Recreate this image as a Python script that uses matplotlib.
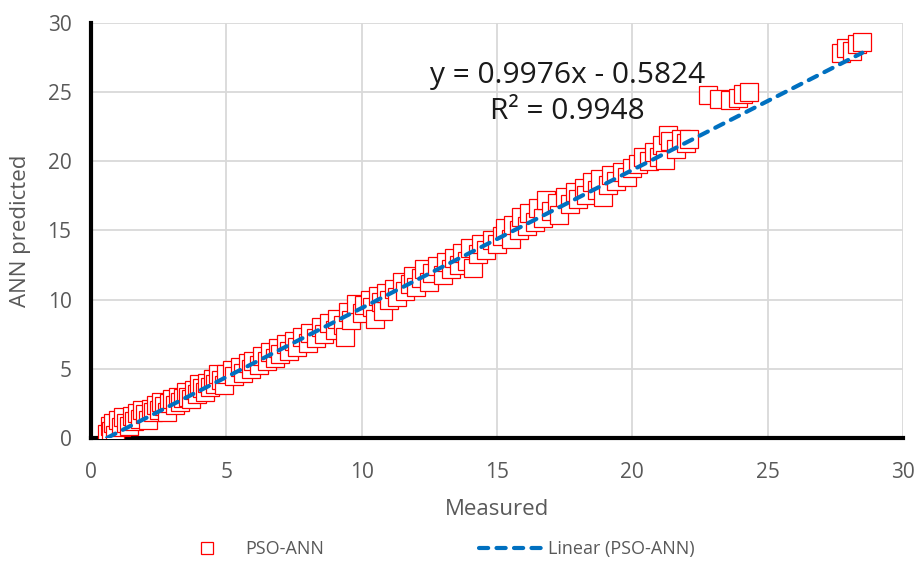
import matplotlib
matplotlib.use("Agg")
import matplotlib.pyplot as plt
import numpy as np

plt.rcParams['font.family'] = ['Open Sans', 'DejaVu Sans']

# measured vs predicted
measured = [0.6, 0.7, 0.75, 0.8, 0.9, 1.0, 1.1, 1.2, 1.3, 1.4, 1.5, 1.6, 1.7, 1.8, 1.9,
            2.0, 2.1, 2.2, 2.3, 2.4, 2.5, 2.6, 2.7, 2.8, 2.9, 3.0, 3.1, 3.2, 3.3, 3.4,
            3.5, 3.6, 3.7, 3.8, 3.9, 4.0, 4.1, 4.2, 4.3, 4.4, 4.5, 4.6, 4.7, 4.8, 4.9,
            5.0, 5.2, 5.3, 5.5, 5.6, 5.8, 5.9, 6.0, 6.2, 6.3, 6.5, 6.6, 6.8, 6.9, 7.0,
            7.2, 7.3, 7.5, 7.6, 7.8, 8.0, 8.1, 8.3, 8.5, 8.6, 8.8, 9.0, 9.1, 9.3, 9.4,
            9.5, 9.6, 9.8, 10.0, 10.1, 10.3, 10.4, 10.5, 10.6, 10.7, 10.8, 10.9, 11.0, 11.2,
            11.3, 11.5, 11.6, 11.8, 11.9, 12.0, 12.2, 12.3, 12.5, 12.6, 12.8, 13.0, 13.1,
            13.3, 13.4, 13.6, 13.7, 13.9, 14.0, 14.1, 14.3, 14.4, 14.6, 14.8, 15.0, 15.2,
            15.3, 15.5, 15.6, 15.8, 15.9, 16.1, 16.2, 16.4, 16.5, 16.7, 16.8, 17.0, 17.2,
            17.3, 17.5, 17.7, 17.9, 18.0, 18.2, 18.3, 18.5, 18.7, 18.8, 18.9, 19.1, 19.2,
            19.4, 19.6, 19.8, 20.0, 20.2, 20.4, 20.6, 20.8, 21.0, 21.1, 21.2, 21.3, 21.4,
            21.6, 21.8, 22.0, 22.1, 22.8, 23.2, 23.6, 23.9, 24.1, 24.3, 27.7, 27.9, 28.1,
            28.3, 28.5]
predicted = [0.3, 0.9, 0.5, 1.1, 0.2, 1.3, 0.8, 1.5, 1.1, 0.9, 1.6, 1.2, 1.8, 1.4, 2.0,
             1.7, 1.3, 2.1, 1.9, 2.4, 2.0, 2.6, 2.3, 1.9, 2.5, 2.8, 2.4, 3.0, 2.6, 2.9,
             3.3, 3.0, 2.8, 3.5, 3.2, 3.9, 3.6, 3.3, 4.0, 3.7, 4.3, 3.9, 4.6, 4.2, 3.8,
             4.6, 4.9, 4.5, 5.1, 4.7, 5.4, 5.0, 5.6, 5.3, 5.9, 5.6, 6.2, 5.8, 6.5, 6.1,
             6.8, 6.3, 7.0, 6.6, 7.3, 6.9, 7.6, 7.2, 8.0, 7.5, 8.3, 7.8, 8.6, 8.2, 7.3,
             9.1, 8.5, 9.7, 9.0, 9.6, 10.0, 9.5, 8.6, 10.3, 9.8, 9.2, 10.5, 10.0, 10.8,
             10.2, 11.3, 10.6, 11.1, 11.7, 10.9, 11.6, 12.2, 11.3, 11.9, 12.4, 11.8, 12.7,
             12.2, 13.0, 12.5, 13.4, 12.8, 13.7, 12.3, 13.3, 14.0, 13.6, 14.3, 14.0, 14.6,
             15.2, 14.4, 15.4, 15.0, 16.0, 15.3, 16.3, 15.6, 16.6, 15.9, 17.2, 16.4, 17.0,
             16.1, 17.4, 16.9, 17.8, 17.3, 18.1, 17.6, 18.5, 17.9, 18.7, 17.4, 18.3, 19.0,
             18.6, 19.2, 18.9, 19.5, 19.8, 20.3, 20.0, 20.7, 20.3, 21.2, 20.1, 21.9, 21.5,
             20.9, 21.6, 21.3, 21.6, 24.8, 24.5, 24.4, 24.6, 24.9, 25.0, 27.8, 28.2, 28.0,
             28.5, 28.6]

# trendline from the equation shown on the chart
slope = 0.9976
intercept = -0.5824
r2 = 0.9948

x_ticks = [0, 5, 10, 15, 20, 25, 30]
y_ticks = [0, 5, 10, 15, 20, 25, 30]

fig = plt.figure(figsize=(9.19, 5.67), dpi=100)
ax = fig.add_axes([0.099, 0.2275, 0.8836, 0.732])

ax.plot(measured, predicted, linestyle='none', marker='s', markersize=13,
        markerfacecolor='white', markeredgecolor='#FF0000', markeredgewidth=0.9,
        label='PSO-ANN', zorder=3)

xl = np.array([min(measured), max(measured)])
ax.plot(xl, slope * xl + intercept, color='#0070C0', linewidth=3,
        linestyle=(0, (2.2, 2.0)), dash_capstyle='round',
        label='Linear (PSO-ANN)', zorder=4)

ax.set_xlim(0, 30)
ax.set_ylim(0, 30)
ax.set_xticks(x_ticks)
ax.set_yticks(y_ticks)
ax.grid(True, color='#D9D9D9', linewidth=1.3)
ax.set_axisbelow(True)
ax.tick_params(length=0, labelsize=15, labelcolor='#595959')
ax.tick_params(axis='y', pad=14)
ax.tick_params(axis='x', pad=17)

for s in ['top', 'right']:
    ax.spines[s].set_visible(False)
for s in ['left', 'bottom']:
    ax.spines[s].set_linewidth(3)
    ax.spines[s].set_color('black')

ax.set_xlabel('Measured', fontsize=16, color='#595959', labelpad=12)
ax.set_ylabel('ANN predicted', fontsize=16, color='#595959', labelpad=12)

ax.text(17.6, 24.9, f'y = {slope}x - {abs(intercept)}\nR² = {r2}', fontsize=21.5,
        ha='center', va='center', multialignment='center', linespacing=1.35,
        color='#1a1a1a', zorder=5)

fig.legend(loc='center', bbox_to_anchor=(0.474, 0.032), ncol=2, frameon=False,
           fontsize=13, handlelength=3.4, handletextpad=0.4, columnspacing=8.6,
           markerscale=0.65, labelcolor='#595959')

fig.savefig('out.png', dpi=100)
